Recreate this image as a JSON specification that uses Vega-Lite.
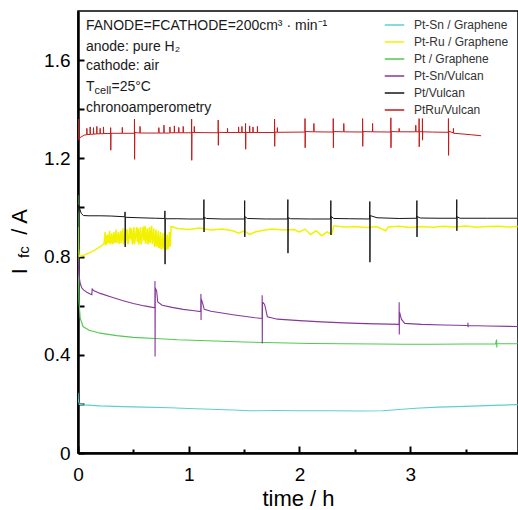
{
"$schema": "https://vega.github.io/schema/vega-lite/v6.json",
"width": 440, "height": 442,
"autosize": {"type": "none"},
"padding": {"left": 78, "top": 11, "right": 0, "bottom": 57},
"config": {"view": {"stroke": "black", "strokeWidth": 1.5}, "font": "Liberation Sans"},
"datasets": {
"cyan": [
{"time":0,"current":0.245},{"time":0.004,"current":0.21},{"time":0.012,"current":0.198},{"time":0.05,"current":0.196},{"time":0.2,"current":0.192},{"time":0.4,"current":0.189},{"time":0.6,"current":0.187},{"time":0.83,"current":0.184},{"time":1.0,"current":0.181},{"time":1.2,"current":0.178},{"time":1.4,"current":0.175},{"time":1.55,"current":0.172},{"time":1.8,"current":0.173},{"time":2.0,"current":0.172},{"time":2.3,"current":0.172},{"time":2.55,"current":0.171},{"time":2.75,"current":0.172},{"time":2.9,"current":0.177},{"time":3.05,"current":0.182},{"time":3.25,"current":0.187},{"time":3.5,"current":0.19},{"time":3.75,"current":0.194},{"time":3.97,"current":0.197}],
"yellow": [
{"time":0,"current":0.92},{"time":0.004,"current":0.83},{"time":0.01,"current":0.8},{"time":0.05,"current":0.805},{"time":0.1,"current":0.815},{"time":0.15,"current":0.825},{"time":0.2,"current":0.84},{"time":0.235,"current":0.852},
{"time":0.245,"current":0.9},{"time":0.25,"current":0.845},{"time":0.255,"current":0.885},{"time":0.26,"current":0.85},{"time":0.265,"current":0.89},{"time":0.275,"current":0.855},{"time":0.285,"current":0.905},{"time":0.29,"current":0.85},{"time":0.295,"current":0.86},{"time":0.305,"current":0.895},{"time":0.31,"current":0.85},{"time":0.315,"current":0.855},{"time":0.325,"current":0.9},{"time":0.33,"current":0.855},{"time":0.335,"current":0.86},{"time":0.345,"current":0.91},{"time":0.35,"current":0.855},{"time":0.355,"current":0.87},{"time":0.365,"current":0.9},{"time":0.37,"current":0.852},{"time":0.375,"current":0.865},{"time":0.385,"current":0.905},{"time":0.39,"current":0.855},{"time":0.395,"current":0.87},{"time":0.405,"current":0.915},{"time":0.41,"current":0.85},{"time":0.415,"current":0.86},{"time":0.425,"current":0.9},{"time":0.43,"current":0.915},{"time":0.435,"current":0.865},{"time":0.445,"current":0.91},{"time":0.45,"current":0.85},{"time":0.455,"current":0.855},{"time":0.465,"current":0.905},{"time":0.47,"current":0.918},{"time":0.475,"current":0.87},{"time":0.485,"current":0.915},{"time":0.49,"current":0.85},{"time":0.495,"current":0.86},{"time":0.505,"current":0.92},{"time":0.51,"current":0.85},{"time":0.515,"current":0.865},{"time":0.525,"current":0.905},{"time":0.53,"current":0.92},{"time":0.535,"current":0.86},{"time":0.545,"current":0.915},{"time":0.55,"current":0.848},{"time":0.555,"current":0.87},{"time":0.565,"current":0.92},{"time":0.57,"current":0.85},{"time":0.575,"current":0.86},{"time":0.585,"current":0.91},{"time":0.59,"current":0.922},{"time":0.595,"current":0.865},{"time":0.605,"current":0.925},{"time":0.61,"current":0.852},{"time":0.615,"current":0.87},{"time":0.625,"current":0.915},{"time":0.63,"current":0.85},{"time":0.635,"current":0.86},{"time":0.645,"current":0.92},{"time":0.65,"current":0.855},{"time":0.655,"current":0.875},{"time":0.665,"current":0.925},{"time":0.67,"current":0.85},{"time":0.675,"current":0.87},{"time":0.685,"current":0.915},{"time":0.69,"current":0.84},{"time":0.695,"current":0.85},{"time":0.705,"current":0.91},{"time":0.71,"current":0.84},{"time":0.715,"current":0.845},{"time":0.725,"current":0.905},{"time":0.73,"current":0.835},{"time":0.735,"current":0.84},{"time":0.745,"current":0.9},{"time":0.75,"current":0.83},{"time":0.755,"current":0.835},{"time":0.765,"current":0.895},{"time":0.77,"current":0.832},{"time":0.775,"current":0.84},{"time":0.785,"current":0.9},{"time":0.79,"current":0.83},{"time":0.795,"current":0.83},{"time":0.805,"current":0.89},{"time":0.81,"current":0.83},{"time":0.815,"current":0.835},{"time":0.825,"current":0.9},{"time":0.83,"current":0.84},{"time":0.835,"current":0.85},{"time":0.84,"current":0.922},
{"time":0.9,"current":0.914},{"time":1.0,"current":0.91},{"time":1.1,"current":0.916},{"time":1.2,"current":0.908},{"time":1.3,"current":0.912},{"time":1.4,"current":0.905},{"time":1.45,"current":0.895},{"time":1.5,"current":0.905},{"time":1.55,"current":0.89},{"time":1.6,"current":0.9},{"time":1.65,"current":0.905},{"time":1.75,"current":0.912},{"time":1.85,"current":0.908},{"time":1.95,"current":0.91},{"time":2.0,"current":0.9},{"time":2.05,"current":0.912},{"time":2.1,"current":0.89},{"time":2.15,"current":0.905},{"time":2.2,"current":0.885},{"time":2.25,"current":0.9},{"time":2.29,"current":0.89},{"time":2.31,"current":0.925},{"time":2.4,"current":0.92},{"time":2.5,"current":0.922},{"time":2.6,"current":0.918},{"time":2.7,"current":0.921},{"time":2.78,"current":0.905},{"time":2.8,"current":0.92},{"time":2.9,"current":0.923},{"time":3.0,"current":0.918},{"time":3.1,"current":0.922},{"time":3.2,"current":0.919},{"time":3.3,"current":0.923},{"time":3.4,"current":0.92},{"time":3.5,"current":0.924},{"time":3.6,"current":0.919},{"time":3.7,"current":0.922},{"time":3.8,"current":0.923},{"time":3.9,"current":0.92},{"time":3.97,"current":0.922}],
"green": [
{"time":0,"current":1.05},{"time":0.003,"current":0.75},{"time":0.008,"current":0.62},{"time":0.02,"current":0.55},{"time":0.045,"current":0.515},{"time":0.1,"current":0.5},{"time":0.2,"current":0.488},{"time":0.35,"current":0.478},{"time":0.5,"current":0.471},{"time":0.7,"current":0.466},{"time":0.9,"current":0.461},{"time":1.1,"current":0.458},{"time":1.3,"current":0.455},{"time":1.5,"current":0.452},{"time":1.67,"current":0.45},{"time":1.9,"current":0.448},{"time":2.1,"current":0.446},{"time":2.4,"current":0.445},{"time":2.7,"current":0.444},{"time":2.93,"current":0.443},{"time":3.2,"current":0.443},{"time":3.5,"current":0.444},{"time":3.77,"current":0.444},{"time":3.78,"current":0.462},{"time":3.781,"current":0.43},{"time":3.783,"current":0.445},{"time":3.97,"current":0.445}],
"purple": [
{"time":0,"current":0.8},{"time":0.003,"current":0.76},{"time":0.01,"current":0.72},{"time":0.02,"current":0.69},{"time":0.035,"current":0.672},{"time":0.05,"current":0.664},{"time":0.08,"current":0.655},{"time":0.11,"current":0.648},{"time":0.125,"current":0.645},{"time":0.128,"current":0.668},{"time":0.14,"current":0.662},{"time":0.2,"current":0.65},{"time":0.3,"current":0.635},{"time":0.4,"current":0.621},{"time":0.5,"current":0.609},{"time":0.6,"current":0.599},{"time":0.694,"current":0.591},{"time":0.695,"current":0.7},{"time":0.696,"current":0.393},{"time":0.698,"current":0.672},{"time":0.71,"current":0.66},{"time":0.72,"current":0.615},{"time":0.76,"current":0.602},{"time":0.85,"current":0.593},{"time":0.95,"current":0.585},{"time":1.05,"current":0.579},{"time":1.108,"current":0.576},{"time":1.11,"current":0.648},{"time":1.111,"current":0.542},{"time":1.113,"current":0.628},{"time":1.125,"current":0.61},{"time":1.14,"current":0.585},{"time":1.2,"current":0.577},{"time":1.3,"current":0.57},{"time":1.4,"current":0.563},{"time":1.5,"current":0.557},{"time":1.6,"current":0.551},{"time":1.662,"current":0.548},{"time":1.663,"current":0.642},{"time":1.664,"current":0.446},{"time":1.666,"current":0.615},{"time":1.685,"current":0.605},{"time":1.71,"current":0.555},{"time":1.8,"current":0.545},{"time":2.0,"current":0.539},{"time":2.2,"current":0.534},{"time":2.4,"current":0.53},{"time":2.6,"current":0.527},{"time":2.8,"current":0.525},{"time":2.899,"current":0.524},{"time":2.9,"current":0.614},{"time":2.901,"current":0.483},{"time":2.903,"current":0.575},{"time":2.92,"current":0.545},{"time":2.95,"current":0.528},{"time":3.1,"current":0.524},{"time":3.3,"current":0.521},{"time":3.52,"current":0.519},{"time":3.521,"current":0.53},{"time":3.522,"current":0.512},{"time":3.523,"current":0.519},{"time":3.7,"current":0.517},{"time":3.97,"current":0.515}],
"black": [
{"time":0,"current":0.98},{"time":0.005,"current":1.01},{"time":0.015,"current":0.995},{"time":0.03,"current":0.975},{"time":0.05,"current":0.967},{"time":0.1,"current":0.966},{"time":0.2,"current":0.966},{"time":0.3,"current":0.965},{"time":0.423,"current":0.962},{"time":0.425,"current":0.982},{"time":0.426,"current":0.839},{"time":0.428,"current":0.96},{"time":0.55,"current":0.958},{"time":0.7,"current":0.956},{"time":0.783,"current":0.955},{"time":0.785,"current":0.986},{"time":0.786,"current":0.769},{"time":0.788,"current":0.954},{"time":0.9,"current":0.954},{"time":1.0,"current":0.953},{"time":1.135,"current":0.953},{"time":1.137,"current":1.032},{"time":1.138,"current":0.9},{"time":1.14,"current":0.96},{"time":1.16,"current":0.955},{"time":1.3,"current":0.953},{"time":1.503,"current":0.953},{"time":1.505,"current":1.028},{"time":1.506,"current":0.88},{"time":1.508,"current":0.962},{"time":1.53,"current":0.955},{"time":1.7,"current":0.953},{"time":1.893,"current":0.953},{"time":1.895,"current":1.032},{"time":1.896,"current":0.814},{"time":1.898,"current":0.958},{"time":1.92,"current":0.954},{"time":2.1,"current":0.953},{"time":2.281,"current":0.953},{"time":2.283,"current":1.028},{"time":2.284,"current":0.888},{"time":2.286,"current":0.963},{"time":2.31,"current":0.955},{"time":2.45,"current":0.954},{"time":2.633,"current":0.953},{"time":2.635,"current":1.024},{"time":2.636,"current":0.777},{"time":2.638,"current":0.967},{"time":2.7,"current":0.958},{"time":2.9,"current":0.955},{"time":3.058,"current":0.956},{"time":3.06,"current":1.028},{"time":3.061,"current":0.88},{"time":3.063,"current":0.963},{"time":3.09,"current":0.957},{"time":3.25,"current":0.956},{"time":3.418,"current":0.956},{"time":3.42,"current":1.032},{"time":3.421,"current":0.905},{"time":3.423,"current":0.962},{"time":3.45,"current":0.956},{"time":3.7,"current":0.956},{"time":3.97,"current":0.956}],
"red": [
{"time":0,"current":1.28},{"time":0.003,"current":1.36},{"time":0.006,"current":1.274},{"time":0.012,"current":1.282},{"time":0.03,"current":1.288},{"time":0.06,"current":1.295},{"time":0.079,"current":1.296},{"time":0.08,"current":1.322},{"time":0.082,"current":1.297},{"time":0.109,"current":1.297},{"time":0.11,"current":1.328},{"time":0.112,"current":1.298},{"time":0.139,"current":1.298},{"time":0.14,"current":1.325},{"time":0.142,"current":1.299},{"time":0.169,"current":1.299},{"time":0.17,"current":1.33},{"time":0.172,"current":1.3},{"time":0.199,"current":1.3},{"time":0.2,"current":1.322},{"time":0.202,"current":1.3},{"time":0.229,"current":1.3},{"time":0.23,"current":1.328},{"time":0.232,"current":1.301},{"time":0.294,"current":1.301},{"time":0.295,"current":1.325},{"time":0.296,"current":1.233},{"time":0.298,"current":1.302},{"time":0.399,"current":1.302},{"time":0.4,"current":1.326},{"time":0.402,"current":1.302},{"time":0.509,"current":1.302},{"time":0.51,"current":1.36},{"time":0.511,"current":1.196},{"time":0.513,"current":1.305},{"time":0.559,"current":1.303},{"time":0.56,"current":1.33},{"time":0.562,"current":1.303},{"time":0.729,"current":1.303},{"time":0.73,"current":1.325},{"time":0.732,"current":1.303},{"time":0.775,"current":1.303},{"time":0.776,"current":1.335},{"time":0.778,"current":1.303},{"time":0.829,"current":1.303},{"time":0.83,"current":1.328},{"time":0.832,"current":1.304},{"time":0.869,"current":1.304},{"time":0.87,"current":1.332},{"time":0.872,"current":1.304},{"time":0.909,"current":1.304},{"time":0.91,"current":1.326},{"time":0.912,"current":1.304},{"time":0.949,"current":1.304},{"time":0.95,"current":1.33},{"time":0.952,"current":1.304},{"time":1.025,"current":1.304},{"time":1.026,"current":1.36},{"time":1.027,"current":1.192},{"time":1.029,"current":1.306},{"time":1.049,"current":1.305},{"time":1.05,"current":1.33},{"time":1.052,"current":1.305},{"time":1.265,"current":1.304},{"time":1.266,"current":1.356},{"time":1.267,"current":1.253},{"time":1.269,"current":1.306},{"time":1.349,"current":1.305},{"time":1.35,"current":1.322},{"time":1.352,"current":1.305},{"time":1.449,"current":1.305},{"time":1.45,"current":1.328},{"time":1.452,"current":1.305},{"time":1.479,"current":1.305},{"time":1.48,"current":1.33},{"time":1.482,"current":1.305},{"time":1.512,"current":1.305},{"time":1.513,"current":1.342},{"time":1.514,"current":1.237},{"time":1.516,"current":1.306},{"time":1.549,"current":1.305},{"time":1.55,"current":1.332},{"time":1.552,"current":1.305},{"time":1.579,"current":1.305},{"time":1.58,"current":1.328},{"time":1.582,"current":1.305},{"time":1.619,"current":1.305},{"time":1.62,"current":1.33},{"time":1.622,"current":1.305},{"time":1.774,"current":1.305},{"time":1.775,"current":1.36},{"time":1.776,"current":1.249},{"time":1.778,"current":1.307},{"time":1.799,"current":1.306},{"time":1.8,"current":1.325},{"time":1.802,"current":1.306},{"time":2.049,"current":1.307},{"time":2.05,"current":1.362},{"time":2.051,"current":1.243},{"time":2.053,"current":1.309},{"time":2.129,"current":1.308},{"time":2.13,"current":1.342},{"time":2.132,"current":1.308},{"time":2.304,"current":1.307},{"time":2.305,"current":1.362},{"time":2.306,"current":1.243},{"time":2.308,"current":1.309},{"time":2.399,"current":1.308},{"time":2.4,"current":1.342},{"time":2.402,"current":1.308},{"time":2.569,"current":1.307},{"time":2.57,"current":1.362},{"time":2.571,"current":1.249},{"time":2.573,"current":1.309},{"time":2.659,"current":1.308},{"time":2.66,"current":1.342},{"time":2.662,"current":1.308},{"time":2.824,"current":1.307},{"time":2.825,"current":1.365},{"time":2.826,"current":1.243},{"time":2.828,"current":1.309},{"time":2.899,"current":1.308},{"time":2.9,"current":1.322},{"time":2.902,"current":1.308},{"time":3.049,"current":1.308},{"time":3.05,"current":1.335},{"time":3.052,"current":1.308},{"time":3.079,"current":1.308},{"time":3.08,"current":1.362},{"time":3.081,"current":1.247},{"time":3.083,"current":1.309},{"time":3.109,"current":1.308},{"time":3.11,"current":1.362},{"time":3.111,"current":1.274},{"time":3.113,"current":1.308},{"time":3.2,"current":1.307},{"time":3.344,"current":1.306},{"time":3.345,"current":1.362},{"time":3.346,"current":1.212},{"time":3.348,"current":1.31},{"time":3.389,"current":1.304},{"time":3.39,"current":1.322},{"time":3.392,"current":1.302},{"time":3.45,"current":1.3},{"time":3.55,"current":1.296},{"time":3.64,"current":1.292}],
"one": [{}]
},
"encoding": {
  "x": {"type": "quantitative", "scale": {"domain": [0, 3.973], "nice": false, "zero": false},
    "axis": {"values": [0,0.5,1,1.5,2,2.5,3,3.5,4], "labelExpr": "datum.value % 1 === 0 ? format(datum.value, 'd') : ''",
      "tickSize": {"condition": {"test": "datum.value % 1 === 0", "value": -7}, "value": -4},
      "tickWidth": 2, "tickColor": "black", "domainColor": "black", "domainWidth": 2.5, "grid": false,
      "labelFontSize": 19, "labelColor": "black", "labelPadding": 0, "labelFlush": false, "labelOverlap": false,
      "labelBaseline": "line-top", "labelLineHeight": 57,
      "title": "time / h", "titleFontSize": 22, "titleFontWeight": "normal", "titleColor": "black", "titlePadding": 1}},
  "y": {"type": "quantitative", "scale": {"domain": [0, 1.8], "nice": false},
    "axis": {"values": [0,0.2,0.4,0.6,0.8,1.0,1.2,1.4,1.6], "labelExpr": "round(datum.value*10) % 4 === 0 ? (datum.value === 0 ? '0' : format(datum.value, '.1f')) : ''",
      "tickSize": -6,
      "tickWidth": 2, "tickColor": "black", "domainColor": "black", "domainWidth": 2.5, "grid": false,
      "labelFontSize": 19, "labelColor": "black", "labelPadding": 14, "labelOverlap": false, "labelFlush": false,
      "title": null}}
},
"layer": [
  {"data": {"name": "cyan"}, "mark": {"type": "line", "strokeWidth": 1.1, "clip": true},
   "encoding": {"x": {"field": "time"}, "y": {"field": "current"}, "color": {"datum": "Pt-Sn / Graphene", "type": "nominal",
     "scale": {"domain": ["Pt-Sn / Graphene", "Pt-Ru / Graphene", "Pt / Graphene", "Pt-Sn/Vulcan", "Pt/Vulcan", "PtRu/Vulcan"],
               "range": ["#5cd0d0", "#f2f200", "#52c852", "#86389a", "#151515", "#c41a1a"]},
     "legend": {"orient": "none", "legendX": 306, "legendY": 3.5, "title": null, "symbolType": "stroke", "symbolSize": 380,
       "symbolStrokeWidth": 1.5, "labelFontSize": 12, "labelColor": "#333333", "labelOffset": 9, "rowPadding": 0, "padding": 0}}}},
  {"data": {"name": "yellow"}, "mark": {"type": "line", "strokeWidth": 1.5, "clip": true},
   "encoding": {"x": {"field": "time"}, "y": {"field": "current"}, "color": {"datum": "Pt-Ru / Graphene", "type": "nominal"}}},
  {"data": {"name": "green"}, "mark": {"type": "line", "strokeWidth": 1.1, "clip": true},
   "encoding": {"x": {"field": "time"}, "y": {"field": "current"}, "color": {"datum": "Pt / Graphene", "type": "nominal"}}},
  {"data": {"name": "purple"}, "mark": {"type": "line", "strokeWidth": 1.1, "clip": true},
   "encoding": {"x": {"field": "time"}, "y": {"field": "current"}, "color": {"datum": "Pt-Sn/Vulcan", "type": "nominal"}}},
  {"data": {"name": "black"}, "mark": {"type": "line", "strokeWidth": 1, "clip": true},
   "encoding": {"x": {"field": "time"}, "y": {"field": "current"}, "color": {"datum": "Pt/Vulcan", "type": "nominal"}}},
  {"data": {"name": "red"}, "mark": {"type": "line", "strokeWidth": 1, "clip": true},
   "encoding": {"x": {"field": "time"}, "y": {"field": "current"}, "color": {"datum": "PtRu/Vulcan", "type": "nominal"}}},
  {"data": {"name": "one"}, "mark": {"type": "text", "text": "FANODE=FCATHODE=200cm³ · min⁻¹", "align": "left", "baseline": "middle", "fontSize": 14, "color": "#1a1a1a"},
   "encoding": {"x": {"datum": 0.072}, "y": {"datum": 1.739}}},
  {"data": {"name": "one"}, "mark": {"type": "text", "text": "anode: pure H₂", "align": "left", "baseline": "middle", "fontSize": 14, "color": "#1a1a1a"},
   "encoding": {"x": {"datum": 0.072}, "y": {"datum": 1.653}}},
  {"data": {"name": "one"}, "mark": {"type": "text", "text": "cathode: air", "align": "left", "baseline": "middle", "fontSize": 14, "color": "#1a1a1a"},
   "encoding": {"x": {"datum": 0.072}, "y": {"datum": 1.575}}},
  {"data": {"name": "one"}, "mark": {"type": "text", "text": "T", "align": "left", "baseline": "middle", "fontSize": 14, "color": "#1a1a1a"},
   "encoding": {"x": {"datum": 0.072}, "y": {"datum": 1.489}}},
  {"data": {"name": "one"}, "mark": {"type": "text", "text": "cell", "align": "left", "baseline": "middle", "fontSize": 11, "dx": 8.6, "dy": 4, "color": "#1a1a1a"},
   "encoding": {"x": {"datum": 0.072}, "y": {"datum": 1.489}}},
  {"data": {"name": "one"}, "mark": {"type": "text", "text": "=25°C", "align": "left", "baseline": "middle", "fontSize": 14, "dx": 25.5, "color": "#1a1a1a"},
   "encoding": {"x": {"datum": 0.072}, "y": {"datum": 1.489}}},
  {"data": {"name": "one"}, "mark": {"type": "text", "text": "chronoamperometry", "align": "left", "baseline": "middle", "fontSize": 14, "color": "#1a1a1a"},
   "encoding": {"x": {"datum": 0.072}, "y": {"datum": 1.407}}},
  {"data": {"name": "one"}, "mark": {"type": "text", "text": "I", "align": "center", "baseline": "middle", "fontSize": 22, "angle": 270, "color": "black"},
   "encoding": {"x": {"datum": -0.524}, "y": {"datum": 0.7406}}},
  {"data": {"name": "one"}, "mark": {"type": "text", "text": "fc", "align": "center", "baseline": "middle", "fontSize": 15, "angle": 270, "dy": 4, "color": "black"},
   "encoding": {"x": {"datum": -0.524}, "y": {"datum": 0.818}}},
  {"data": {"name": "one"}, "mark": {"type": "text", "text": "/ A", "align": "center", "baseline": "middle", "fontSize": 22, "angle": 270, "color": "black"},
   "encoding": {"x": {"datum": -0.524}, "y": {"datum": 0.941}}}
]
}
